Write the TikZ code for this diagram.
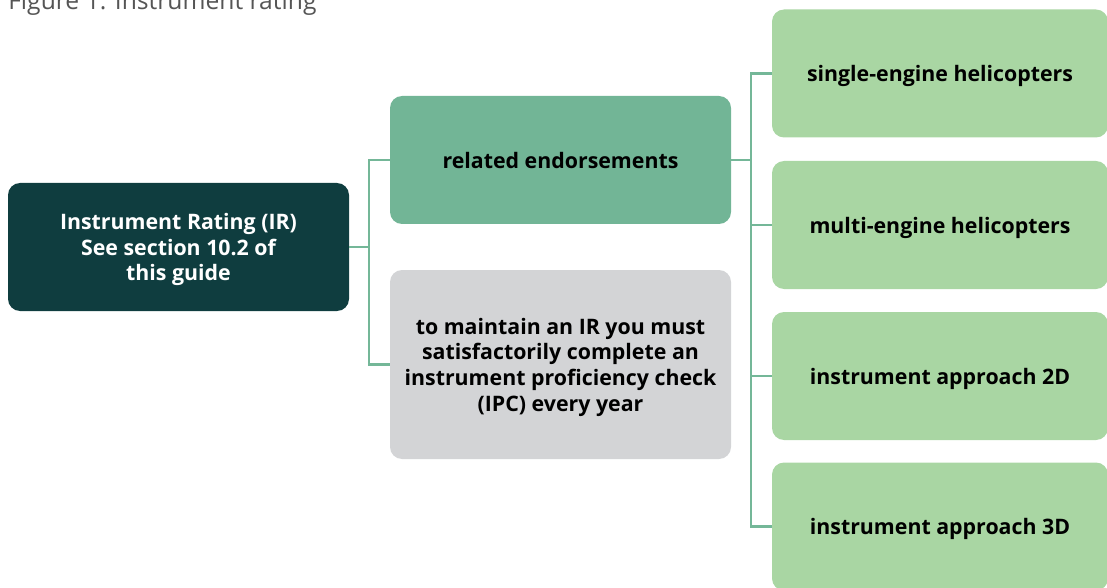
\documentclass[tikz,border=0pt]{standalone}
\usepackage{fontspec}
\setmainfont{Open Sans}
\definecolor{darkteal}{HTML}{0F3D3F}
\definecolor{midgreen}{HTML}{72B596}
\definecolor{lightgreen}{HTML}{A9D6A3}
\definecolor{boxgrey}{HTML}{D3D4D6}
\definecolor{linkgreen}{HTML}{74B798}
\definecolor{titlegrey}{HTML}{555555}
\tikzset{
  box/.style={rounded corners=9pt, inner sep=0pt, align=center, font=\bfseries\fontsize{16}{19.2}\selectfont,
    text depth=0pt, minimum width=255.75pt, minimum height=96pt},
  link/.style={draw=linkgreen, line width=1.6pt}
}
\begin{document}
\begin{tikzpicture}[x=0.75pt, y=-0.75pt]
  \useasboundingbox (0, 0) rectangle (1107, 588);
  \node (title) at (8, 10) [anchor=base west, text=titlegrey, font=\fontsize{18.5}{22}\selectfont, inner sep=0pt] {Figure 1: Instrument rating};
  \node (root) at (178.5, 247) [box, fill=darkteal, text=white] {Instrument Rating (IR)\\See section 10.2 of\\this guide};
  \node (rel) at (560.5, 160) [box, fill=midgreen] {related endorsements};
  \node (ipc) at (560.5, 364.5) [box, fill=boxgrey, minimum height=141.75pt] {to maintain an IR you must\\satisfactorily complete an\\instrument proficiency check\\(IPC) every year};
  \node (se) at (940, 73.5) [box, fill=lightgreen, minimum width=252pt] {single-engine helicopters};
  \node (me) at (940, 225) [box, fill=lightgreen, minimum width=252pt] {multi-engine helicopters};
  \node (twod) at (940, 376) [box, fill=lightgreen, minimum width=252pt] {instrument approach 2D};
  \node (threed) at (940, 526.5) [box, fill=lightgreen, minimum width=252pt] {instrument approach 3D};
  \coordinate (ja) at (369, 247);
  \coordinate (jb) at (751, 160);
  \draw[link] (root.east) -- (ja) |- (rel.west);
  \draw[link] (ja) |- (ipc.west);
  \draw[link] (rel.east) -- (jb) |- (se.west);
  \draw[link] (jb) |- (me.west);
  \draw[link] (jb) |- (twod.west);
  \draw[link] (jb) |- (threed.west);
\end{tikzpicture}
\end{document}
